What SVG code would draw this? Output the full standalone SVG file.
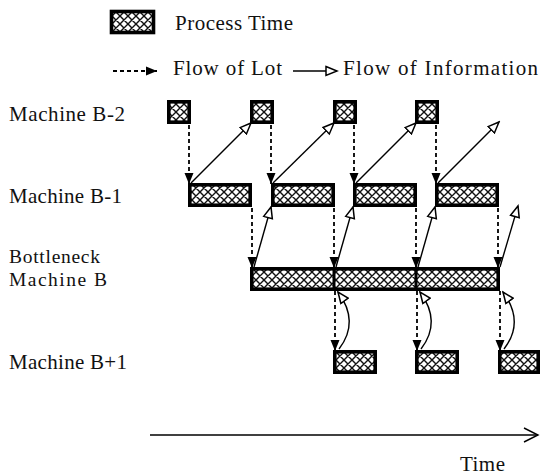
<svg xmlns="http://www.w3.org/2000/svg" width="540" height="476" viewBox="0 0 540 476">
<style>
text{font-family:"Liberation Serif","Times New Roman",serif;font-size:21px;fill:#111}
.sm{font-size:19.5px}
.box{fill:url(#hatch);stroke:#000;stroke-width:3.6}
.lot{stroke:#000;stroke-width:1.8;stroke-dasharray:4 3;fill:none;marker-end:url(#filled)}
.info{stroke:#000;stroke-width:1.4;fill:none;marker-end:url(#hollow)}
.div{stroke:#000;stroke-width:3}
</style>
<defs>
<pattern id="hatch" width="8" height="8" patternUnits="userSpaceOnUse">
<rect width="8" height="8" fill="#fff"/>
<path d="M0 0L8 8M8 0L0 8M-1 7L1 9M7 -1L9 1M-1 1L1 -1M7 9L9 7" stroke="#111" stroke-width="1.4"/>
</pattern>
<marker id="filled" markerWidth="12" markerHeight="10" refX="11" refY="5" orient="auto" markerUnits="userSpaceOnUse">
<path d="M0 0.5L11 5L0 9.5Z" fill="#000"/>
</marker>
<marker id="hollow" markerWidth="14" markerHeight="12" refX="12" refY="6" orient="auto" markerUnits="userSpaceOnUse">
<path d="M1 1.5L12 6L1 10.5Z" fill="#fff" stroke="#000" stroke-width="1.5"/>
</marker>
</defs>

<g id="legend">
<rect class="box" x="111.5" y="11.5" width="42" height="21"/>
<text x="175" y="30" textLength="118" lengthAdjust="spacing">Process Time</text>
<line class="lot" x1="113" y1="71" x2="157" y2="71"/>
<text x="173" y="75" textLength="109" lengthAdjust="spacing">Flow of Lot</text>
<line class="info" x1="293" y1="71" x2="337" y2="71"/>
<text x="343" y="75" textLength="195" lengthAdjust="spacing">Flow of Information</text>
</g>

<g id="labels">
<text x="9" y="121" textLength="116" lengthAdjust="spacing">Machine B-2</text>
<text x="9" y="203" textLength="113" lengthAdjust="spacing">Machine B-1</text>
<text class="sm" x="9" y="263" textLength="91" lengthAdjust="spacing">Bottleneck</text>
<text class="sm" x="9" y="286" textLength="98" lengthAdjust="spacing">Machine B</text>
<text x="9" y="369" textLength="118" lengthAdjust="spacing">Machine B+1</text>
</g>

<g id="machine-b-2">
<rect class="box" x="168.8" y="101.8" width="20.4" height="20.4"/>
<rect class="box" x="251.8" y="101.8" width="20.4" height="20.4"/>
<rect class="box" x="334.8" y="101.8" width="20.4" height="20.4"/>
<rect class="box" x="416.8" y="101.8" width="20.4" height="20.4"/>
</g>

<g id="machine-b-1">
<rect class="box" x="189.8" y="184.8" width="60.4" height="20.4"/>
<rect class="box" x="272.8" y="184.8" width="60.4" height="20.4"/>
<rect class="box" x="354.8" y="184.8" width="60.4" height="20.4"/>
<rect class="box" x="436.8" y="184.8" width="60.4" height="20.4"/>
</g>

<g id="machine-b">
<rect class="box" x="251.8" y="268.8" width="246.4" height="20.4"/>
<line class="div" x1="334" y1="268" x2="334" y2="290"/>
<line class="div" x1="416" y1="268" x2="416" y2="290"/>
</g>

<g id="machine-b-plus-1">
<rect class="box" x="334.8" y="351.8" width="40.4" height="20.4"/>
<rect class="box" x="416.8" y="351.8" width="40.4" height="20.4"/>
<rect class="box" x="499.8" y="351.8" width="38.4" height="20.4"/>
</g>

<g id="connectors">
<line class="lot" x1="189" y1="125" x2="189" y2="184"/>
<line class="lot" x1="271" y1="125" x2="271" y2="184"/>
<line class="lot" x1="354" y1="125" x2="354" y2="184"/>
<line class="lot" x1="436" y1="125" x2="436" y2="184"/>

<line class="info" x1="191" y1="183" x2="251" y2="123"/>
<line class="info" x1="273" y1="183" x2="334" y2="123"/>
<line class="info" x1="356" y1="183" x2="416" y2="123"/>
<line class="info" x1="438" y1="183" x2="499" y2="122"/>

<line class="lot" x1="252" y1="208" x2="252" y2="268"/>
<line class="lot" x1="334" y1="208" x2="334" y2="268"/>
<line class="lot" x1="416" y1="208" x2="416" y2="268"/>
<line class="lot" x1="498" y1="208" x2="498" y2="268"/>

<line class="info" x1="254" y1="267" x2="271" y2="207"/>
<line class="info" x1="336" y1="267" x2="353" y2="207"/>
<line class="info" x1="418" y1="267" x2="435" y2="207"/>
<line class="info" x1="500" y1="267" x2="518" y2="206"/>

<line class="lot" x1="335" y1="291" x2="335" y2="351"/>
<line class="lot" x1="417" y1="291" x2="417" y2="351"/>
<line class="lot" x1="500" y1="291" x2="500" y2="351"/>

<path class="info" d="M339 349Q360 322 338 292"/>
<path class="info" d="M421 349Q442 322 420 292"/>
<path class="info" d="M504 349Q525 322 503 292"/>
</g>

<g id="time-axis">
<line x1="150" y1="435" x2="538" y2="435" stroke="#000" stroke-width="1.4"/>
<path d="M524 428L538 435L524 442" fill="none" stroke="#000" stroke-width="1.4"/>
<text x="460" y="471" textLength="45" lengthAdjust="spacing">Time</text>
</g>
</svg>
